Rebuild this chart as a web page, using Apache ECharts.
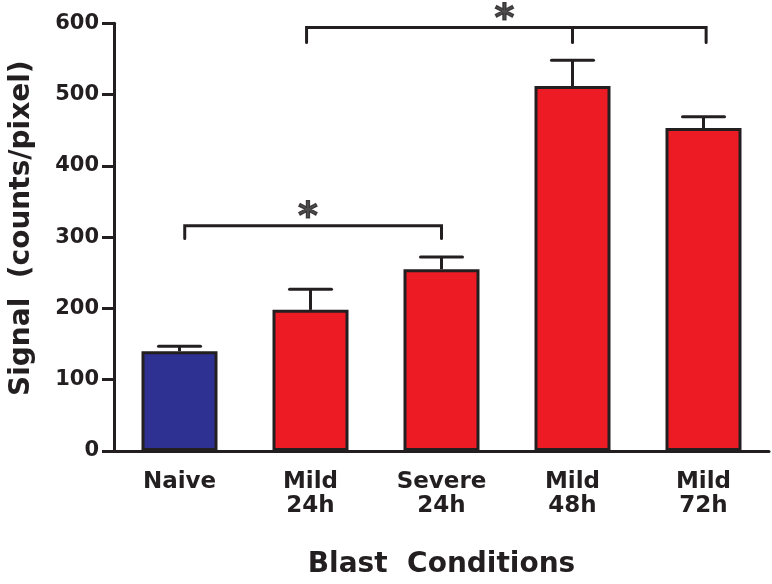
<!DOCTYPE html>
<html>
<head>
<meta charset="utf-8">
<script src="https://cdn.jsdelivr.net/npm/echarts@6/dist/echarts.min.js"></script>
<style>
  html, body { margin: 0; padding: 0; background: #fff; }
  #chart { width: 772px; height: 584px; }
</style>
</head>
<body>
<div id="chart"></div>
<script>
// 数据
const categories = ['Naive', 'Mild\n24h', 'Severe\n24h', 'Mild\n48h', 'Mild\n72h'];
const means = [140, 198, 255, 512, 453];
const errors = [7, 29, 17, 36, 16];
const barColors = ['#2e3192', '#ed1c24', '#ed1c24', '#ed1c24', '#ed1c24'];
const yTicks = [0, 100, 200, 300, 400, 500, 600];
// 显著性括号 [x, y]，x 为类别序号
const bracketSmall = [[0.04, 298], [0.04, 316], [2.0, 316], [2.0, 298]];
const bracketBig = [[0.97, 573], [0.97, 594], [4.02, 594], [4.02, 573]];
const bracketBigMid = [[3.0, 594], [3.0, 573]];
const stars = [[0.98, 326], [2.48, 605]];

const ink = '#231f20';
const font = 'DejaVu Sans';

const chart = echarts.init(document.getElementById('chart'));

const bracketLine = (data) => ({
  type: 'line',
  xAxisIndex: 1,
  data: data,
  symbol: 'none',
  clip: false,
  silent: true,
  lineStyle: { color: ink, width: 3, cap: 'round', join: 'miter' },
  z: 5
});

const option = {
  animation: false,
  backgroundColor: '#fff',
  grid: { left: 112, right: 3, top: 23.3, bottom: 132.3, containLabel: false },
  xAxis: [
    {
      type: 'category',
      data: categories,
      axisLine: { lineStyle: { color: ink, width: 3 } },
      axisTick: { alignWithLabel: true, length: 11, lineStyle: { color: ink, width: 3 } },
      axisLabel: {
        color: ink, fontFamily: font, fontWeight: 'bold', fontSize: 23,
        lineHeight: 24, margin: 19, interval: 0
      },
      name: 'Blast  Conditions',
      nameLocation: 'middle',
      nameGap: 100,
      nameTextStyle: { color: ink, fontFamily: font, fontWeight: 'bold', fontSize: 28 }
    },
    { type: 'value', min: -0.5, max: 4.5, show: false }
  ],
  yAxis: {
    type: 'value',
    min: 0, max: 600, interval: 100,
    splitLine: { show: false },
    axisLine: { show: true, onZero: false, lineStyle: { color: ink, width: 3 } },
    axisTick: { show: true, length: 12, lineStyle: { color: ink, width: 3 } },
    axisLabel: {
      color: ink, fontFamily: font, fontWeight: 'bold', fontSize: 21, margin: 15,
      formatter: (v) => yTicks.includes(v) ? String(v) : ''
    },
    name: 'Signal  (counts/pixel)',
    nameLocation: 'middle',
    nameRotate: 90,
    nameGap: 78,
    nameTextStyle: {
      color: ink, fontFamily: font, fontWeight: 'bold', fontSize: 28,
      padding: [0, 0, 0, 18]
    }
  },
  series: [
    {
      type: 'bar',
      barWidth: 76,
      data: means.map((v, i) => ({
        value: v,
        itemStyle: { color: barColors[i], borderColor: ink, borderWidth: 3 }
      })),
      z: 2
    },
    {
      // 误差线
      type: 'custom',
      data: means.map((v, i) => [i, v, v + errors[i]]),
      renderItem: (params, api) => {
        const base = api.coord([api.value(0), api.value(1)]);
        const top = api.coord([api.value(0), api.value(2)]);
        const half = 21;
        return {
          type: 'group',
          children: [
            { type: 'line', shape: { x1: base[0], y1: base[1], x2: top[0], y2: top[1] },
              style: { stroke: ink, lineWidth: 3 } },
            { type: 'line', shape: { x1: top[0] - half, y1: top[1], x2: top[0] + half, y2: top[1] },
              style: { stroke: ink, lineWidth: 3, lineCap: 'round' } }
          ]
        };
      },
      z: 3
    },
    bracketLine(bracketSmall),
    bracketLine(bracketBig),
    bracketLine(bracketBigMid),
    {
      type: 'scatter',
      xAxisIndex: 1,
      data: stars,
      symbolSize: 0,
      clip: false,
      silent: true,
      label: {
        show: true, position: 'inside', formatter: '*',
        color: ink, fontFamily: font, fontWeight: 'bold', fontSize: 38,
        textBorderColor: ink, textBorderWidth: 1.2
      },
      z: 6
    }
  ]
};

chart.setOption(option);
</script>
</body>
</html>
